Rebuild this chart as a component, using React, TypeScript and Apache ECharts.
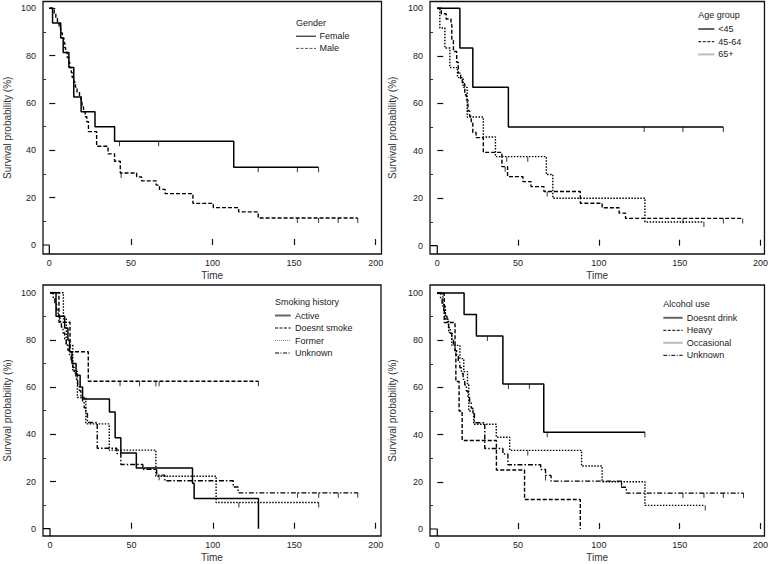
import React, { useEffect, useRef } from "react";
import * as echarts from "echarts";

// ---------- Data ----------
// Panel 1: Gender
const femaleTimes = [0, 2, 7, 8.5, 12, 15, 19.5, 28, 40, 113, 165];
const femaleSurv = [100, 93.8, 87.5, 81.3, 75, 62.5, 56.3, 50, 43.8, 32.8, 32.8];
const femaleCensor = [43, 67, 128, 152, 165];
const maleTimes = [0, 3, 4, 5, 6, 7, 8, 9, 9.5, 10, 11, 12, 12.5, 13.5, 14, 15, 16, 17, 18.5, 19.5, 20, 21, 22, 23, 24, 29, 36, 40, 43.5, 53.5, 56.5, 65.5, 67.5, 71, 88, 100.5, 116, 128, 189];
const maleSurv = [100, 97.9, 95.8, 93.8, 91.7, 89.6, 87.5, 85.4, 83.3, 81.3, 79.2, 77.1, 75, 72.9, 70.8, 68.8, 66.7, 64.6, 62.5, 60.4, 58.3, 56.3, 54.2, 52.1, 47.9, 41.7, 38.5, 35.4, 30.4, 28.8, 27.1, 25.3, 23.5, 21.7, 17.6, 15.8, 14, 11.4, 11.4];
const maleCensor = [44, 152, 165, 177, 189];

// Panel 2: Age group
const lt45Times = [0, 14, 22, 44, 177];
const lt45Surv = [100, 83.3, 66.7, 50, 50];
const lt45Censor = [128, 152, 177];
const mid45Times = [0, 2.5, 5.5, 8.5, 9, 10, 12, 13, 14.5, 15.5, 17, 18, 19, 20, 21, 22, 24, 28.5, 40, 43.5, 53, 58, 66, 88.5, 102, 112.5, 116.5, 189];
const mid45Surv = [100, 97.7, 95.5, 93.2, 86.4, 81.8, 77.3, 72.7, 70.5, 68.2, 63.6, 61.4, 56.8, 54.5, 52.3, 47.7, 45.5, 39.3, 33.3, 29.1, 27, 24.9, 22.8, 17.9, 16, 13.7, 11.5, 11.5];
const mid45Censor = [42, 68, 152, 177, 189];
const old65Times = [0, 1.6, 4.7, 7.8, 12.5, 16, 18.5, 28.5, 36, 67.5, 71.5, 128.5, 165];
const old65Surv = [100, 91.7, 83.3, 75, 70.8, 66.7, 54.2, 45.8, 37.5, 30, 20, 10, 10];
const old65Censor = [43, 56, 165];

// Panel 3: Smoking history
const activeTimes = [0, 3.7, 9, 11, 12, 13.5, 16, 18.5, 20, 36.5, 40, 43.5, 53, 87.5, 88.5, 128];
const activeSurv = [100, 90, 85, 80, 75, 70, 65, 60, 55, 49.5, 38.5, 32.1, 25.7, 19.3, 12.8, 0];
const activeCensor: number[] = [];
const nonSmokerTimes = [0, 5.5, 12.3, 23.5, 128];
const nonSmokerSurv = [100, 87.5, 75, 62.5, 62.5];
const nonSmokerCensor = [43, 55, 65, 67, 128];
const formerTimes = [0, 8.2, 10, 14, 16.8, 22, 36.4, 65, 102, 165];
const formerSurv = [100, 88.9, 77.8, 66.7, 55.6, 44.4, 33.3, 22.2, 11.1, 11.1];
const formerCensor = [116, 165];
const smokeUnkTimes = [0, 2, 3, 4, 5, 6, 7, 8, 9, 10, 11, 12, 13, 14, 15, 16, 17, 18, 19, 20, 21, 22, 23, 29, 41, 43.5, 57, 65.5, 70.5, 112.5, 115.5, 189];
const smokeUnkSurv = [100, 97.6, 95.1, 92.7, 90.2, 87.8, 85.4, 82.9, 80.5, 78, 75.6, 73.2, 70.7, 68.3, 65.9, 63.4, 61, 58.5, 56.1, 53.7, 51.2, 48.8, 45, 34.1, 31.8, 27.2, 25.2, 22.7, 20.3, 17.7, 15.2, 15.2];
const smokeUnkCensor = [67, 152, 165, 177, 189];

// Panel 4: Alcohol use
const noDrinkTimes = [0, 16.6, 24.2, 40.6, 65.9, 128.5];
const noDrinkSurv = [100, 90.9, 81.8, 61.4, 41, 41];
const noDrinkCensor = [31, 44, 57, 68, 128.5];
const heavyTimes = [0, 4.3, 11, 11.5, 13.5, 15.4, 36.6, 54, 88.5];
const heavySurv = [100, 87.5, 75, 62.5, 50, 37.5, 25, 12.5, 0];
const heavyCensor: number[] = [];
const occTimes = [0, 3.5, 5, 7, 9, 14, 16.4, 18.7, 19.5, 22.5, 36.5, 44.8, 89.3, 102, 128.5, 165.8];
const occSurv = [100, 94.4, 88.9, 83.3, 77.8, 72.2, 66.7, 61.1, 50, 44.4, 38.9, 33.3, 26.7, 20, 10, 10];
const occCensor = [56, 114, 165.8];
const alcUnkTimes = [0, 2, 3, 4, 5, 6, 7, 8, 9, 10, 11, 12, 13, 14, 15, 16, 17, 18, 19, 20, 21, 22, 23, 29.4, 40.6, 43.7, 64, 67, 70.4, 114, 117, 189.5];
const alcUnkSurv = [100, 97.6, 95.1, 92.7, 90.2, 87.8, 85.4, 82.9, 80.5, 78, 75.6, 73.2, 70.7, 68.3, 65.9, 63.4, 61, 58.5, 56.1, 53.7, 51.2, 48.8, 45, 34.1, 31.8, 27.2, 25.2, 22.7, 20.3, 17.7, 15.2, 15.2];
const alcUnkCensor = [67, 152, 165, 177, 189.5];

const xTickValues = [0, 50, 100, 150, 200];
const yTickValues = [0, 20, 40, 60, 80, 100];
const xTickMarks = [50, 100, 150, 200];
const yTickMarks = [20, 40, 60, 80, 100];
const yMinorValues = [10, 30, 50, 70, 90];
const panelTitles = ["Gender", "Age group", "Smoking history", "Alcohol use"];

// ---------- Styles ----------
const DASH = [4, 2];
const DOT = [1.5, 1.5];
const DASHDOT = [5, 2, 1.5, 2];

type Curve = { name: string; times: number[]; surv: number[]; censor: number[]; dash: number[] | null; width: number };
type Legend = { name: string; color: string; width: number; dash: number[] | null };

const panels: { curves: Curve[]; legend: Legend[]; grid: any; xr: [number, number]; yr: [number, number]; nameGap: number; leg: { x: number; y: number; lineX2: number; textX: number; dy: number } }[] = [
  {
    curves: [
      { name: "Female", times: femaleTimes, surv: femaleSurv, censor: femaleCensor, dash: null, width: 1.5 },
      { name: "Male", times: maleTimes, surv: maleSurv, censor: maleCensor, dash: DASH, width: 1.4 },
    ],
    legend: [
      { name: "Female", color: "#000", width: 1, dash: null },
      { name: "Male", color: "#555", width: 1, dash: [3, 1.5] },
    ],
    grid: { left: 43, top: 1.5, width: 338.5, height: 252.5 },
    xr: [-3.86, 203.55],
    yr: [-3.8, 102.87],
    nameGap: 31,
    leg: { x: 296, y: 24, lineX2: 316, textX: 319.5, dy: 12.2 },
  },
  {
    curves: [
      { name: "<45", times: lt45Times, surv: lt45Surv, censor: lt45Censor, dash: null, width: 1.5 },
      { name: "45-64", times: mid45Times, surv: mid45Surv, censor: mid45Censor, dash: DASH, width: 1.4 },
      { name: "65+", times: old65Times, surv: old65Surv, censor: old65Censor, dash: DOT, width: 1.4 },
    ],
    legend: [
      { name: "<45", color: "#666", width: 2, dash: null },
      { name: "45-64", color: "#000", width: 1, dash: [3, 1.5] },
      { name: "65+", color: "#bbb", width: 2, dash: null },
    ],
    grid: { left: 430, top: 1.5, width: 336, height: 252.5 },
    xr: [-4.5, 202.46],
    yr: [-3.5, 102.86],
    nameGap: 33,
    leg: { x: 698.3, y: 16.3, lineX2: 714.3, textX: 718.3, dy: 12.7 },
  },
  {
    curves: [
      { name: "Active", times: activeTimes, surv: activeSurv, censor: activeCensor, dash: null, width: 1.5 },
      { name: "Doesnt smoke", times: nonSmokerTimes, surv: nonSmokerSurv, censor: nonSmokerCensor, dash: DASH, width: 1.4 },
      { name: "Former", times: formerTimes, surv: formerSurv, censor: formerCensor, dash: DOT, width: 1.4 },
      { name: "Unknown", times: smokeUnkTimes, surv: smokeUnkSurv, censor: smokeUnkCensor, dash: DASHDOT, width: 1.4 },
    ],
    legend: [
      { name: "Active", color: "#666", width: 2, dash: null },
      { name: "Doesnt smoke", color: "#000", width: 1, dash: [3, 1.5] },
      { name: "Former", color: "#888", width: 1, dash: [1, 1] },
      { name: "Unknown", color: "#000", width: 1, dash: [4, 1.5, 1, 1.5] },
    ],
    grid: { left: 43, top: 285, width: 338, height: 251 },
    xr: [-4.3, 203.25],
    yr: [-3.09, 103.26],
    nameGap: 31,
    leg: { x: 275, y: 303, lineX2: 290.7, textX: 295, dy: 12.5 },
  },
  {
    curves: [
      { name: "Doesnt drink", times: noDrinkTimes, surv: noDrinkSurv, censor: noDrinkCensor, dash: null, width: 1.5 },
      { name: "Heavy", times: heavyTimes, surv: heavySurv, censor: heavyCensor, dash: DASH, width: 1.4 },
      { name: "Occasional", times: occTimes, surv: occSurv, censor: occCensor, dash: DOT, width: 1.4 },
      { name: "Unknown", times: alcUnkTimes, surv: alcUnkSurv, censor: alcUnkCensor, dash: DASHDOT, width: 1.4 },
    ],
    legend: [
      { name: "Doesnt drink", color: "#666", width: 2, dash: null },
      { name: "Heavy", color: "#000", width: 1, dash: [3, 1.5] },
      { name: "Occasional", color: "#bbb", width: 2, dash: null },
      { name: "Unknown", color: "#000", width: 1, dash: [4, 1.5, 1, 1.5] },
    ],
    grid: { left: 430, top: 285, width: 336, height: 251 },
    xr: [-4.5, 202.46],
    yr: [-2.97, 103.39],
    nameGap: 33,
    leg: { x: 663.3, y: 305.3, lineX2: 682.7, textX: 686.7, dy: 12.5 },
  },
];

function survAt(times: number[], surv: number[], t: number) {
  let v = surv[0];
  for (let i = 0; i < times.length; i++) if (times[i] <= t) v = surv[i];
  return v;
}

const FONT = "'Liberation Sans', Arial, sans-serif";
const TEXT = "#222";

function buildOption() {
  const grids: any[] = [];
  const xAxes: any[] = [];
  const yAxes: any[] = [];
  const series: any[] = [];
  const graphics: any[] = [];

  panels.forEach((p, pi) => {
    grids.push({ ...p.grid, show: true, borderColor: "#111", borderWidth: 1.3, backgroundColor: "transparent", containLabel: false });
    xAxes.push({
      type: "value", gridIndex: pi, min: p.xr[0], max: p.xr[1],
      axisLine: { show: false }, splitLine: { show: false },
      axisTick: { show: true, inside: true, length: 6, customValues: xTickMarks, lineStyle: { color: "#111", width: 1.2 } },
      axisLabel: { customValues: xTickValues, fontSize: 9, color: TEXT, margin: 4, fontFamily: FONT },
      name: "Time", nameLocation: "middle", nameGap: 16,
      nameTextStyle: { fontSize: 10, color: "#333", fontFamily: FONT },
    });
    yAxes.push({
      type: "value", gridIndex: pi, min: p.yr[0], max: p.yr[1], position: "left",
      axisLine: { show: false }, splitLine: { show: false },
      axisTick: { show: true, inside: true, length: 6, customValues: yTickMarks, lineStyle: { color: "#111", width: 1.2 } },
      axisLabel: { customValues: yTickValues, fontSize: 9, color: TEXT, margin: 7, fontFamily: FONT },
      name: "Survival probability (%)", nameLocation: "middle", nameGap: p.nameGap,
      nameTextStyle: { fontSize: 10, color: "#333", fontFamily: FONT },
    });
    yAxes.push({
      type: "value", gridIndex: pi, min: p.yr[0], max: p.yr[1], position: "left", offset: 0,
      axisLine: { show: false }, splitLine: { show: false },
      axisTick: { show: true, inside: true, length: 3, customValues: yMinorValues, lineStyle: { color: "#333", width: 1 } },
      axisLabel: { show: false },
    });

    const yIdx = pi * 2;
    // origin marker
    series.push({
      type: "line", xAxisIndex: pi, yAxisIndex: yIdx, silent: true, showSymbol: false,
      data: [[p.xr[0], 0], [0, 0], [0, p.yr[0]]],
      lineStyle: { color: "#000", width: 1.2 },
    });
    p.curves.forEach((c) => {
      series.push({
        name: c.name, type: "line", step: "end", xAxisIndex: pi, yAxisIndex: yIdx,
        showSymbol: false, silent: true,
        data: c.times.map((t, i) => [t, c.surv[i]]),
        lineStyle: { color: "#000", width: c.width, type: c.dash ? c.dash : "solid" },
      });
      if (c.censor.length) {
        series.push({
          name: c.name + " censored", type: "scatter", xAxisIndex: pi, yAxisIndex: yIdx, silent: true,
          symbol: "rect", symbolSize: [1, 5], symbolOffset: [0, 2.5],
          itemStyle: { color: "#000" },
          data: c.censor.map((t) => [t, survAt(c.times, c.surv, t)]),
        });
      }
    });

    // legend block
    const L = p.leg;
    graphics.push({
      type: "text", left: L.x, top: L.y - 6,
      style: { text: panelTitles[pi], fontSize: 9, fill: TEXT, fontFamily: FONT },
    });
    p.legend.forEach((lg, li) => {
      const y = L.y + L.dy * (li + 1);
      graphics.push({
        type: "line",
        shape: { x1: L.x, y1: y, x2: L.lineX2, y2: y },
        style: { stroke: lg.color, lineWidth: lg.width, lineDash: lg.dash || null },
      });
      graphics.push({
        type: "text", x: L.textX, y: y,
        style: { text: lg.name, fontSize: 9, fill: TEXT, fontFamily: FONT, textVerticalAlign: "middle", verticalAlign: "middle" },
      });
    });
  });

  return {
    animation: false,
    backgroundColor: "#fff",
    textStyle: { fontFamily: FONT },
    grid: grids,
    xAxis: xAxes,
    yAxis: yAxes,
    series,
    graphic: graphics,
  };
}

export default function App() {
  const ref = useRef<HTMLDivElement>(null);
  useEffect(() => {
    document.body.style.margin = "0";
    if (!ref.current) return;
    const chart = echarts.init(ref.current, undefined, { renderer: "svg" });
    chart.setOption(buildOption() as any);
    return () => chart.dispose();
  }, []);
  return <div ref={ref} style={{ position: "absolute", left: 0, top: 0, width: 771, height: 564 }} />;
}
